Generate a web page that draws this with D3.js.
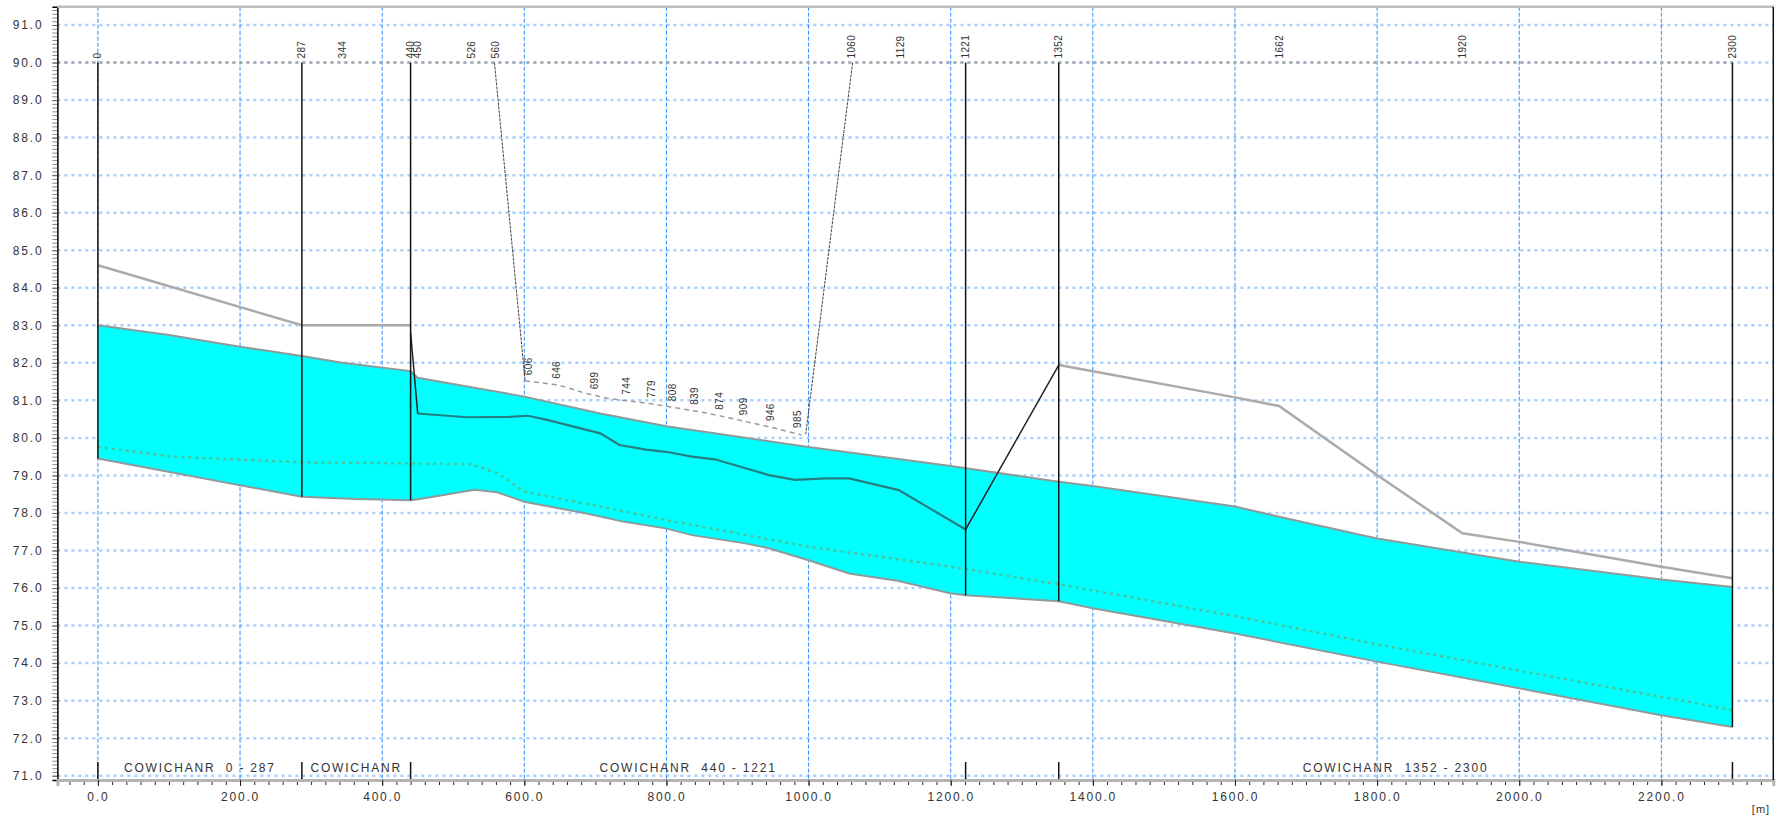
<!DOCTYPE html>
<html>
<head>
<meta charset="utf-8">
<script src="https://cdn.jsdelivr.net/npm/d3@7"></script>
<style>
  body { margin: 0; background: #fff; }
  text { font-family: "Liberation Sans", Arial, sans-serif; fill: #333; }
</style>
</head>
<body>
<div id="profile"></div>
<script>
// longitudinal profile, chainage (m) and level pairs
var waterSurface = [[0,83.0],[100,82.74],[200,82.43],[287,82.18],[344,82.0],[440,81.78],[450,81.6],
  [600,81.1],[707,80.65],[800,80.31],[1000,79.76],[1200,79.25],[1352,78.83],[1400,78.72],
  [1600,78.17],[1662,77.9],[1800,77.32],[2000,76.7],[2200,76.23],[2300,76.03]];
var bedLevel = [[0,79.45],[287,78.43],[363,78.37],[440,78.34],[455,78.38],[530,78.62],[562,78.55],
  [600,78.3],[686,77.99],[739,77.77],[799,77.59],[836,77.41],[911,77.19],[944,77.06],[1000,76.74],
  [1057,76.39],[1127,76.19],[1199,75.86],[1221,75.81],[1352,75.65],[1400,75.46],[1600,74.79],
  [1800,74.04],[2000,73.33],[2200,72.61],[2300,72.3]];
var greenLevel = [[0,79.76],[105,79.5],[287,79.35],[440,79.32],[525,79.3],[562,79.06],[600,78.57],
  [707,78.17],[800,77.81],[1000,77.1],[1200,76.57],[1352,76.1],[1600,75.25],[1800,74.5],
  [2000,73.8],[2200,73.1],[2300,72.75]];
var tealLevel = [[450,80.65],[519,80.55],[579,80.56],[605,80.59],[632,80.48],[707,80.12],[734,79.81],
  [771,79.69],[799,79.63],[836,79.5],[868,79.43],[944,79.01],[981,78.88],[1025,78.92],[1057,78.92],
  [1127,78.61],[1221,77.56]];
var leftBank = [[0,84.6],[287,83.0],[440,83.0]];
var rightBank = [[1352,81.94],[1600,81.08],[1662,80.85],[1800,79.01],[1920,77.46],[2000,77.23],
  [2200,76.57],[2300,76.26]];
var bankLinks = [[[440,82.8],[450,80.65]], [[1221,77.56],[1352,81.94]]];
var denseLine = [[601,81.52],[648,81.41],[686,81.19],[718,81.05],[775,80.92],[817,80.79],
  [855,80.67],[901,80.48],[948,80.28],[990,80.08]];
var leaders = [[[558,90],[601,81.55]], [[1062,90],[996,80.1]]];

var branchEnds = [0, 287, 440, 1221, 1352, 2300];
var branchNames = ["COWICHANR  0 - 287", "COWICHANR", "COWICHANR  440 - 1221", "", "COWICHANR  1352 - 2300"];
var topLabels = [0, 287, 344, 440, 450, 526, 560, 1060, 1129, 1221, 1352, 1662, 1920, 2300];
var denseLabels = [606, 646, 699, 744, 779, 808, 839, 874, 909, 946, 985];
var levelTicks = d3.range(71, 91.5, 1);
var chainTicks = d3.range(0, 2201, 200);

var svgWidth = 1784;
var svgHeight = 817;

var svg = d3.select("#profile")
  .append("svg")
  .attr("width", svgWidth)
  .attr("height", svgHeight)
  .style("background", "#fff");

var x = d3.scaleLinear().domain([-57, 2357.5]).range([57.4, 1773.3]);
var y = d3.scaleLinear().domain([70.886, 91.488]).range([780, 6.7]);

var line = d3.line().x(d => x(d[0])).y(d => y(d[1]));
var area = d3.area().x(d => x(d[0])).y0(d => y(bedAt(d[0]))).y1(d => y(d[1]));

function interp(arr, c) {
  for (var i = 1; i < arr.length; i++) {
    if (c <= arr[i][0]) {
      var a = arr[i - 1], b = arr[i];
      return a[1] + (b[1] - a[1]) * (c - a[0]) / (b[0] - a[0]);
    }
  }
  return arr[arr.length - 1][1];
}
function bedAt(c) { return interp(bedLevel, c); }

// grid
svg.append("g").selectAll("line").data(levelTicks).enter().append("line")
  .attr("x1", x.range()[0]).attr("x2", x.range()[1])
  .attr("y1", d => y(d)).attr("y2", d => y(d))
  .attr("stroke", "#a9d0ff").attr("stroke-width", 2.5).attr("stroke-dasharray", "3,4");

svg.append("g").selectAll("line").data(chainTicks).enter().append("line")
  .attr("x1", d => x(d)).attr("x2", d => x(d))
  .attr("y1", y.range()[1]).attr("y2", y.range()[0])
  .attr("stroke", "#2b8fff").attr("stroke-width", 1).attr("stroke-dasharray", "4,2");

// water body between bed and surface
var wsPts = waterSurface.map(d => d[0]).concat(bedLevel.map(d => d[0]));
wsPts = Array.from(new Set(wsPts)).sort((a, b) => a - b).map(c => [c, interp(waterSurface, c)]);
svg.append("path").datum(wsPts).attr("d", area).attr("fill", "#00ffff");

svg.append("path").datum(waterSurface).attr("d", line)
  .attr("fill", "none").attr("stroke", "#8f9a9a").attr("stroke-width", 2);
svg.append("path").datum(bedLevel).attr("d", line)
  .attr("fill", "none").attr("stroke", "#8f9a9a").attr("stroke-width", 2);

svg.append("path").datum(greenLevel).attr("d", line)
  .attr("fill", "none").attr("stroke", "#4cc49a").attr("stroke-width", 2.5).attr("stroke-dasharray", "3,4");

svg.append("path").datum(tealLevel).attr("d", line)
  .attr("fill", "none").attr("stroke", "#257f80").attr("stroke-width", 2.2);

[leftBank, rightBank].forEach(function(b) {
  svg.append("path").datum(b).attr("d", line)
    .attr("fill", "none").attr("stroke", "#aaaaaa").attr("stroke-width", 2.5);
});

bankLinks.forEach(function(b) {
  svg.append("path").datum(b).attr("d", line)
    .attr("fill", "none").attr("stroke", "#222").attr("stroke-width", 1.5);
});

// reference line at 90 m
svg.append("line")
  .attr("x1", x.range()[0]).attr("x2", x(2300))
  .attr("y1", y(90)).attr("y2", y(90))
  .attr("stroke", "#a8a8a8").attr("stroke-width", 2.5).attr("stroke-dasharray", "3,4");

// dense cross-section labels and leaders
svg.append("path").datum(denseLine).attr("d", line)
  .attr("fill", "none").attr("stroke", "#9a9a9a").attr("stroke-width", 1.5).attr("stroke-dasharray", "5,4");
leaders.forEach(function(l) {
  svg.append("path").datum(l).attr("d", line)
    .attr("fill", "none").attr("stroke", "#444").attr("stroke-width", 1).attr("stroke-dasharray", "3,1");
});

// branch end markers
svg.append("g").selectAll("line").data(branchEnds).enter().append("line")
  .attr("x1", d => x(d)).attr("x2", d => x(d))
  .attr("y1", y(90)).attr("y2", d => y(bedAt(d)))
  .attr("stroke", "#111").attr("stroke-width", 1.5);

svg.append("g").selectAll("line").data(branchEnds).enter().append("line")
  .attr("x1", d => x(d)).attr("x2", d => x(d))
  .attr("y1", y.range()[0]).attr("y2", y.range()[0] - 18)
  .attr("stroke", "#111").attr("stroke-width", 1.5);

// labels
svg.append("g").selectAll("text").data(topLabels).enter().append("text")
  .attr("transform", d => `translate(${x(d)}, ${y(90) - 4}) rotate(-90)`)
  .attr("dy", "0.35em")
  .attr("font-size", "10px")
  .attr("letter-spacing", "0.4px")
  .text(d => d);

svg.append("g").selectAll("text").data(denseLabels).enter().append("text")
  .attr("transform", d => `translate(${x(d)}, ${y(interp(denseLine, d)) - 6}) rotate(-90)`)
  .attr("dy", "0.35em")
  .attr("font-size", "10px")
  .attr("letter-spacing", "0.4px")
  .text(d => d);

svg.append("g").selectAll("text").data(branchNames).enter().append("text")
  .attr("x", (d, i) => (x(branchEnds[i]) + x(branchEnds[i + 1])) / 2)
  .attr("y", y.range()[0] - 8)
  .attr("text-anchor", "middle")
  .attr("font-size", "12px")
  .attr("letter-spacing", "1.8px")
  .style("white-space", "pre")
  .text(d => d);

// axes
var minorY = svg.append("g")
  .attr("transform", `translate(${x.range()[0]},0)`)
  .call(d3.axisLeft(y).tickValues(d3.range(71, 91.45, 0.1)).tickSize(5).tickFormat(""));
minorY.selectAll(".tick line").attr("stroke", "#888");
minorY.select(".domain").remove();

var yAxis = svg.append("g")
  .attr("transform", `translate(${x.range()[0]},0)`)
  .call(d3.axisLeft(y).tickValues(levelTicks).tickSize(5).tickPadding(9).tickFormat(d3.format(".1f")));
yAxis.selectAll("text").attr("font-size", "12px").attr("letter-spacing", "1.8px").attr("fill", "#333")
  .style("font-family", "'Liberation Sans', Arial, sans-serif");
yAxis.selectAll(".tick line").attr("stroke", "#666");
yAxis.select(".domain").attr("stroke", "#000").attr("stroke-width", 1.5);

var minorX = svg.append("g")
  .attr("transform", `translate(0,${y.range()[0]})`)
  .call(d3.axisBottom(x).tickValues(d3.range(-40, 2350, 20)).tickSize(5).tickFormat(""));
minorX.selectAll(".tick line").attr("stroke", "#222");
minorX.select(".domain").remove();

var xAxis = svg.append("g")
  .attr("transform", `translate(0,${y.range()[0]})`)
  .call(d3.axisBottom(x).tickValues(chainTicks).tickSize(6).tickPadding(6).tickFormat(d3.format(".1f")));
xAxis.selectAll("text").attr("font-size", "12px").attr("letter-spacing", "1.8px").attr("fill", "#333")
  .style("font-family", "'Liberation Sans', Arial, sans-serif");
xAxis.selectAll(".tick line").attr("stroke", "#222");
xAxis.select(".domain").attr("stroke", "#b4b4b4").attr("stroke-width", 3);

// frame top / right
svg.append("line")
  .attr("x1", x.range()[0]).attr("x2", x.range()[1])
  .attr("y1", y.range()[1]).attr("y2", y.range()[1])
  .attr("stroke", "#bdbdbd").attr("stroke-width", 2.5);
svg.append("line")
  .attr("x1", x.range()[1]).attr("x2", x.range()[1])
  .attr("y1", y.range()[1]).attr("y2", y.range()[0])
  .attr("stroke", "#111").attr("stroke-width", 1.5);

svg.append("text")
  .attr("x", 1761).attr("y", 813)
  .attr("text-anchor", "middle")
  .attr("font-size", "11px")
  .attr("letter-spacing", "1px")
  .text("[m]");
</script>
</body>
</html>
